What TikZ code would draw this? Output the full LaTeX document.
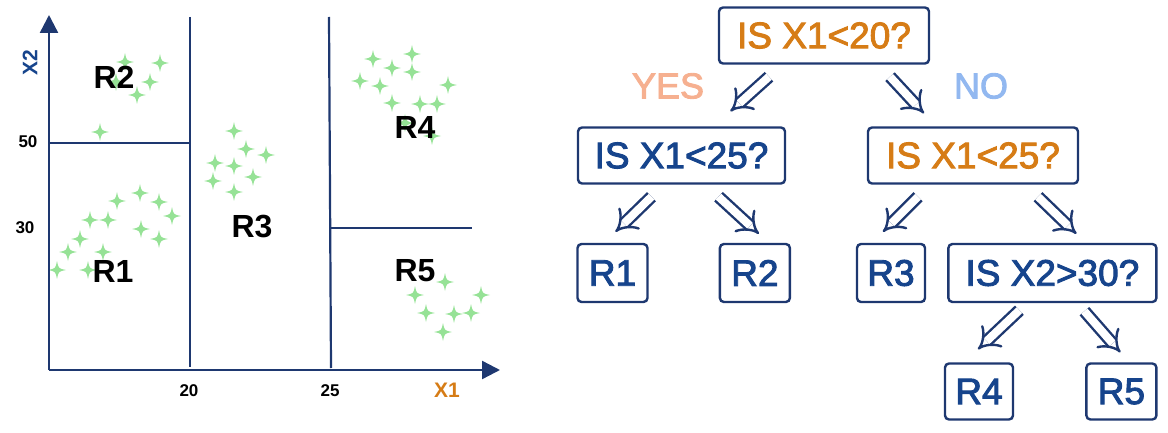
\documentclass[tikz,border=0pt]{standalone}
\usepackage{fontspec}
\setmainfont{Liberation Sans}
\newfontfamily\treefont[FakeBold=2.5]{Liberation Sans}
\usetikzlibrary{arrows.meta,positioning}
\definecolor{navy}{RGB}{30,56,112}
\definecolor{treeblue}{RGB}{22,68,140}
\definecolor{treeorange}{RGB}{214,124,22}
\definecolor{yescol}{RGB}{246,176,144}
\definecolor{nocol}{RGB}{146,184,240}
\definecolor{stargreen}{RGB}{150,226,150}

\begin{document}
\begin{tikzpicture}[x=1pt, y=-1pt,
axis/.style={navy, line width=2.4pt, -{Triangle[length=18pt, width=18pt]}},
split/.style={navy, line width=2.2pt},
region/.style={font=\fontsize{32}{32}\selectfont\bfseries, text=black},
tick/.style={font=\fontsize{17}{17}\selectfont\bfseries, text=black},
qbox/.style={draw=navy, line width=2.4pt, rounded corners=4pt, minimum width=210pt, minimum height=56pt, inner sep=0pt, font=\fontsize{37}{37}\treefont},
leaf/.style={qbox, minimum width=70pt, text=treeblue},
tarrow/.style={navy, line width=2.4pt, double=white, double distance=8pt, -{Implies}},
spark/.pic={\fill[stargreen] (0,-9) .. controls (1.5,-1.5) .. (9,0) .. controls (1.5,1.5) .. (0,9) .. controls (-1.5,1.5) .. (-9,0) .. controls (-1.5,-1.5) .. (0,-9) -- cycle;}
]
\useasboundingbox (0,0) rectangle (1168,433);
\foreach \p in {(125,62),(160,63),(150,82),(137,95),(116,82),(100,132),
  (140,193),(117,201),(159,202),(172,216),(90,220),(108,220),(141,229),(159,239),(80,239),(68,252),(103,252),(57,270),(88,270),
  (234,131),(246,149),(266,155),(215,163),(234,166),(253,177),(213,181),(234,192),
  (373,59),(412,54),(392,68),(412,72),(360,81),(380,86),(448,85),(392,103),(420,104),(437,104),(405,123),(432,136),
  (445,282),(415,295),(481,295),(426,313),(454,314),(471,313),(443,332)}
  \pic at \p {spark};
\coordinate (o) at (49,370);
\coordinate (ytip) at (49,15);
\coordinate (xtip) at (500,370);
\draw[axis] (o) -- (ytip);
\draw[axis] (o) -- (xtip);
\draw[split] (190,17) -- (190,367);
\draw[split] (329,17) -- (331,368);
\draw[split] (49,143) -- (190,143);
\draw[split] (331,228) -- (472,228);
\node[region] (lr1) at (113,271) {R1};
\node[region] (lr2) at (114,77) {R2};
\node[region] (lr3) at (252,227) {R3};
\node[region] (lr4) at (415,127) {R4};
\node[region] (lr5) at (415,271) {R5};
\node[tick] (t50) at (28,142) {50};
\node[tick] (t30) at (25,228) {30};
\node[tick] (t20) at (189,391) {20};
\node[tick] (t25) at (330,391) {25};
\node[tick, text=treeorange, font=\fontsize{21}{21}\selectfont\bfseries] (lx1) at (447,390) {X1};
\node[tick, text=treeblue, font=\fontsize{21}{21}\selectfont\bfseries, rotate=90] (lx2) at (30,63) {X2};
\node[qbox, text=treeorange] (root) at (824,35.5) {IS X1<20?};
\node[qbox, text=treeblue, minimum width=207pt] (q2) at (681.5,155.5) {IS X1<25?};
\node[qbox, text=treeorange] (q3) at (973,155.5) {IS X1<25?};
\node[leaf, minimum height=58pt] (r1) at (612.5,273) {R1};
\node[leaf, minimum height=58pt, right=70pt of r1] (r2) {R2};
\node[leaf, minimum height=58pt, minimum width=68pt] (r3) at (891,273) {R3};
\node[qbox, text=treeblue, minimum height=58pt, minimum width=208pt, right=21pt of r3] (q4) {IS X2>30?};
\node[leaf, minimum width=68pt] (r4) at (979,391.5) {R4};
\node[leaf, right=71pt of r4] (r5) {R5};
\node[text=yescol, font=\fontsize{36}{36}\treefont] (yes) at (668,86) {YES};
\node[text=nocol, font=\fontsize{36}{36}\treefont] (no) at (981,86) {NO};
\draw[tarrow] ([shift={(-55,12)}]root.south) -- ([shift={(49,-15)}]q2.north);
\draw[tarrow] ([shift={(66,12)}]root.south) -- ([shift={(-49,-13)}]q3.north);
\draw[tarrow] ([shift={(-30,12)}]q2.south) -- ([shift={(3,-11)}]r1.north);
\draw[tarrow] ([shift={(37,12)}]q2.south) -- ([shift={(4,-9)}]r2.north);
\draw[tarrow] ([shift={(-55,12)}]q3.south) -- ([shift={(-8,-11)}]r3.north);
\draw[tarrow] ([shift={(65,12)}]q3.south) -- ([shift={(24,-9)}]q4.north);
\draw[tarrow] ([shift={(-33,7)}]q4.south) -- ([shift={(-1,-13)}]r4.north);
\draw[tarrow] ([shift={(32,8)}]q4.south) -- ([shift={(-1,-10)}]r5.north);
\end{tikzpicture}
\end{document}
